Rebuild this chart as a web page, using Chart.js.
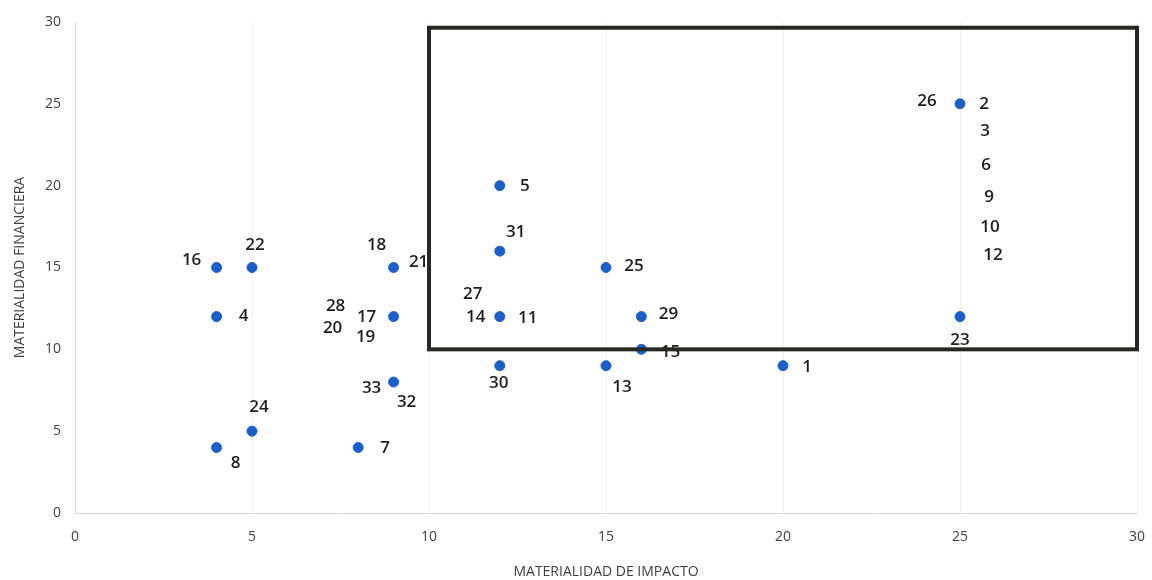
<!DOCTYPE html>
<html>
<head>
<meta charset="utf-8">
<script src="https://cdn.jsdelivr.net/npm/chart.js@4/dist/chart.umd.min.js"></script>
<style>
  html, body { margin: 0; padding: 0; background: #ffffff; }
  #wrap { width: 1152px; height: 580px; position: relative; }
</style>
</head>
<body>
<div id="wrap"><canvas id="c"></canvas></div>
<script>
// ---- data ----
const impactX    = [4, 5, 4, 5, 4, 8, 9, 9, 9, 12, 12, 12, 12, 15, 15, 16, 16, 20, 25, 25];
const financialY = [15, 15, 12, 5, 4, 4, 15, 12, 8, 20, 16, 12, 9, 15, 9, 12, 10, 9, 25, 12];
const issueIds = [
  ["16"], ["22"], ["4"], ["24"], ["8"], ["7"],
  ["18", "21"], ["28", "20", "17", "19"], ["33", "32"],
  ["5"], ["31"], ["27", "14", "11"], ["30"],
  ["25"], ["13"], ["29"], ["15"], ["1"],
  ["26", "2", "3", "6", "9", "10", "12"], ["23"]
];
const xTicks = [0, 5, 10, 15, 20, 25, 30];
const yTicks = [0, 5, 10, 15, 20, 25, 30];
const boxRange = { x0: 10, x1: 30, y0: 10, y1: 29.65 };

// ---- label placement (pixel offsets from each point) ----
const labelOffsets = [
  [[-25, -7]], [[3, -22]], [[27, 0]], [[7, -24]], [[19, 16]], [[27, 1]],
  [[-17, -22], [25, -5]], [[-58, -10], [-61, 12], [-27, 1], [-28, 21]], [[-22, 6], [13, 20]],
  [[25, 0]], [[16, -19]], [[-27, -22], [-24, 1], [28, 2]], [[-1, 17]],
  [[28, -1]], [[16, 21]], [[27, -2]], [[29, 3]], [[24, 1]],
  [[-33, -3], [24, 0], [25, 27], [26, 61], [29, 93], [30, 123], [33, 151]], [[0, 24]]
];

const points = impactX.map((x, i) => ({ x: x, y: financialY[i] }));

const labelPlugin = {
  id: 'pointLabels',
  afterDatasetsDraw(chart) {
    const ctx = chart.ctx;
    const meta = chart.getDatasetMeta(0);
    ctx.save();
    ctx.font = '600 17px "Open Sans", sans-serif';
    ctx.fillStyle = '#1e1e1e';
    ctx.textAlign = 'center';
    ctx.textBaseline = 'middle';
    meta.data.forEach((el, i) => {
      issueIds[i].forEach((t, j) => {
        const o = labelOffsets[i][j];
        ctx.fillText(t, el.x + o[0], el.y + o[1]);
      });
    });
    ctx.restore();
  }
};

const boxPlugin = {
  id: 'materialBox',
  afterDraw(chart) {
    const ctx = chart.ctx;
    const xs = chart.scales.x, ys = chart.scales.y;
    const l = xs.getPixelForValue(boxRange.x0);
    const r = xs.getPixelForValue(boxRange.x1);
    const t = ys.getPixelForValue(boxRange.y1);
    const b = ys.getPixelForValue(boxRange.y0);
    ctx.save();
    ctx.strokeStyle = '#26291f';
    ctx.lineWidth = 4;
    ctx.strokeRect(l, t, r - l, b - t);
    ctx.restore();
  }
};

new Chart(document.getElementById('c'), {
  type: 'scatter',
  data: {
    datasets: [{
      data: points,
      backgroundColor: '#1d5fc8',
      borderColor: '#1d5fc8',
      pointRadius: 5,
      pointHoverRadius: 5
    }]
  },
  options: {
    responsive: true,
    maintainAspectRatio: false,
    animation: false,
    events: [],
    layout: { padding: { top: 22, right: 15, left: 0, bottom: 0 } },
    plugins: { legend: { display: false }, tooltip: { enabled: false } },
    scales: {
      x: {
        type: 'linear', min: 0, max: 30,
        afterBuildTicks(s) { s.ticks = xTicks.map(v => ({ value: v })); },
        afterFit(s) { s.height = 67; s.paddingLeft = 0; s.paddingRight = 0; },
        grid: { color: '#efefef', drawTicks: false, lineWidth: 1 },
        border: { color: '#d9d9d9', width: 1 },
        ticks: { padding: 16, color: '#404040', font: { family: '"Open Sans", sans-serif', size: 14 } },
        title: { display: true, text: 'MATERIALIDAD DE IMPACTO', color: '#404040',
                 font: { family: '"Open Sans", sans-serif', size: 14 }, padding: { top: 0, bottom: 0 } }
      },
      y: {
        type: 'linear', min: 0, max: 30,
        afterBuildTicks(s) { s.ticks = yTicks.map(v => ({ value: v })); },
        afterFit(s) { s.width = 75; s.paddingTop = 0; s.paddingBottom = 0; },
        grid: { display: false, drawTicks: false },
        border: { color: '#d9d9d9', width: 1 },
        ticks: { padding: 14, color: '#404040', font: { family: '"Open Sans", sans-serif', size: 14 } },
        title: { display: true, text: 'MATERIALIDAD FINANCIERA', color: '#404040',
                 font: { family: '"Open Sans", sans-serif', size: 14 }, padding: { top: 12, bottom: 0 } }
      }
    }
  },
  plugins: [labelPlugin, boxPlugin]
});
</script>
</body>
</html>
